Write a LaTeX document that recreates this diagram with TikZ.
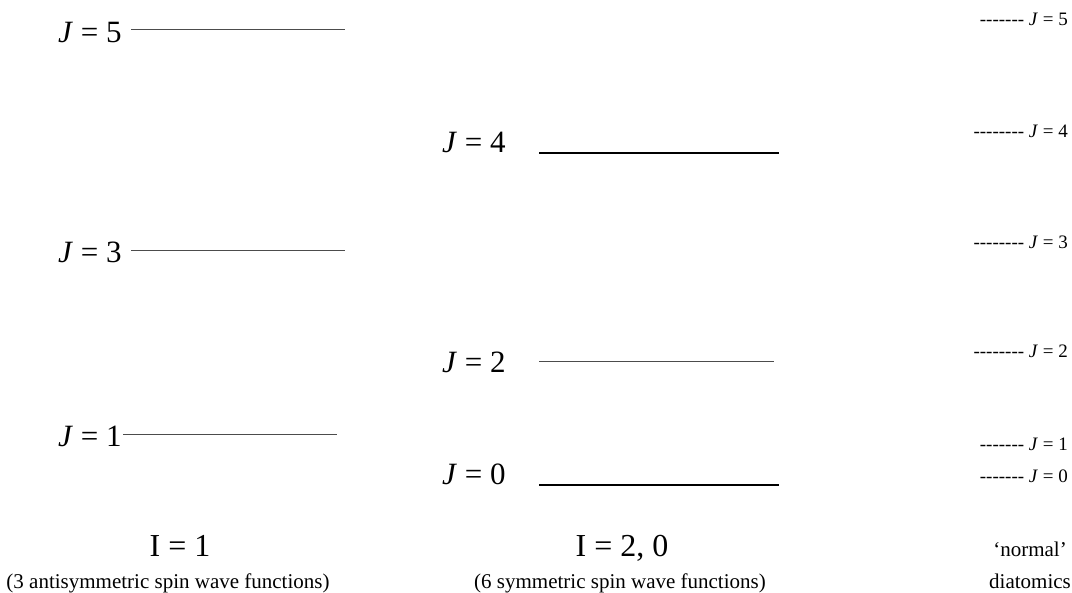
\documentclass[tikz,border=0pt]{standalone}
\usepackage{fontspec}
\setmainfont{Liberation Serif}
\newfontfamily\dashfont{Liberation Serif}
\usepackage{tikz}
\usetikzlibrary{positioning}
\newcommand{\jeq}[1]{\textit{J} = #1}
\newcommand{\dashrun}[1]{{\dashfont\foreach \k in {1,...,#1}{-}}}
\tikzset{
  biglab/.style={inner sep=0pt,anchor=base west,font=\fontsize{31}{33}\selectfont},
  smalllab/.style={inner sep=0pt,anchor=base east,font=\fontsize{19}{21}\selectfont},
  botlab/.style={inner sep=0pt,anchor=base,font=\fontsize{32}{34}\selectfont},
  capt/.style={inner sep=0pt,anchor=base,font=\fontsize{21}{23}\selectfont},
  thinlvl/.style={draw=black!70,line width=0.9pt},
  thicklvl/.style={draw=black,line width=1.6pt},
}

\begin{document}
\begin{tikzpicture}[x=1pt,y=-1pt]
  \useasboundingbox (0,0) rectangle (1072,593);
  % I = 1 column
  \node[biglab] (a5) at (58,43) {\jeq{5}};
  \node[biglab] (a3) at (58,263) {\jeq{3}};
  \node[biglab] (a1) at (58,447) {\jeq{1}};
  \draw[thinlvl] (131,29) -- (345,29);
  \draw[thinlvl] (131,250) -- (345,250);
  \draw[thinlvl] (123,434) -- (337,434);
  % I = 2, 0 column
  \node[biglab] (b4) at (442,153) {\jeq{4}};
  \node[biglab] (b2) at (442,373) {\jeq{2}};
  \node[biglab] (b0) at (442,485) {\jeq{0}};
  \draw[thicklvl] (539,153) -- (779,153);
  \draw[thinlvl] (539,361) -- (774,361);
  \draw[thicklvl] (539,485) -- (779,485);
  % normal diatomics
  \node[smalllab] (c5) at (1068,26) {\dashrun{7} \jeq{5}};
  \node[smalllab] (c4) at (1068,138) {\dashrun{8} \jeq{4}};
  \node[smalllab] (c3) at (1068,249) {\dashrun{8} \jeq{3}};
  \node[smalllab] (c2) at (1068,358) {\dashrun{8} \jeq{2}};
  \node[smalllab] (c1) at (1068,451) {\dashrun{7} \jeq{1}};
  \node[smalllab] (c0) at (1068,483) {\dashrun{7} \jeq{0}};
  % captions
  \node[botlab] (i1) at (180,557) {I = 1};
  \node[capt] (i1txt) at (168,588) {(3 antisymmetric spin wave functions)};
  \node[botlab] (i20) at (622,557) {I = 2, 0};
  \node[capt] (i20txt) at (620,588) {(6 symmetric spin wave functions)};
  \node[capt] (nrm) at (1030,557) {‘normal’};
  \node[capt] (dia) at (1030,588) {diatomics};
\end{tikzpicture}
\end{document}
